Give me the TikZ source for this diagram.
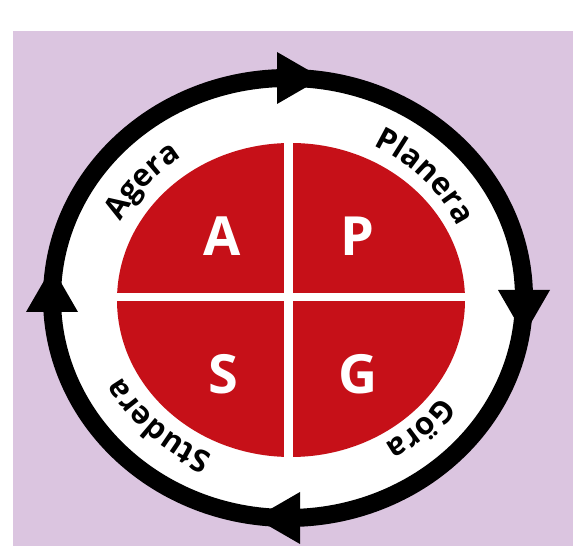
\documentclass[tikz,border=0pt]{standalone}
\usepackage{fontspec}
\setmainfont{Open Sans}
\usetikzlibrary{decorations.text}
\definecolor{bgpurple}{RGB}{219,197,224}
\definecolor{apsgred}{RGB}{198,16,24}
\begin{document}
\begin{tikzpicture}[x=1pt,y=1pt,
  bigletter/.style={text=white,font=\bfseries\fontsize{54}{54}\selectfont,inner sep=0pt},
  arrowhead/.style={fill=black},
  ringlabel/.style={decorate,decoration={text along path,text align=center,text={|\bfseries\fontsize{31}{31}\selectfont|#1}}}]
\useasboundingbox (0,0) rectangle (573,546);
\fill[white] (0,0) rectangle (573,546);
\fill[bgpurple] (13,0) rectangle (573,515);
\coordinate (c) at (288,248);
\draw[line width=18pt, fill=white] (c) ellipse [x radius=236, y radius=220];
\fill[apsgred] (291,246) ellipse [x radius=174, y radius=157];
\fill[white] (283.5,85) rectangle (292.5,407);
\fill[white] (112,245) rectangle (472,253);
\node[bigletter] (A) at (222,310) {A};
\node[bigletter] (P) at (357,310) {P};
\node[bigletter] (S) at (223,172) {S};
\node[bigletter] (G) at (358,172) {G};
% arrowheads
\fill[arrowhead,shift={(277,468)},rotate=0] (0,26) -- (45,0) -- (0,-26) -- cycle;
\fill[arrowhead,shift={(524,256)},rotate=-90] (0,26) -- (45,0) -- (0,-26) -- cycle;
\fill[arrowhead,shift={(300,28)},rotate=180] (0,26) -- (45,0) -- (0,-26) -- cycle;
\fill[arrowhead,shift={(52,234)},rotate=90] (0,26) -- (45,0) -- (0,-26) -- cycle;
% ring labels
\path[ringlabel=Agera] (c) ++(180:187 and 171) arc[start angle=180,end angle=100,x radius=187,y radius=171];
\path[ringlabel=Planera] (c) ++(83:187 and 171) arc[start angle=83,end angle=3,x radius=187,y radius=171];
\path[ringlabel=Göra] (c) ++(-6:187 and 171) arc[start angle=-6,end angle=-86,x radius=187,y radius=171];
\path[ringlabel=Studera] (c) ++(-94:187 and 171) arc[start angle=-94,end angle=-174,x radius=187,y radius=171];
\end{tikzpicture}
\end{document}
